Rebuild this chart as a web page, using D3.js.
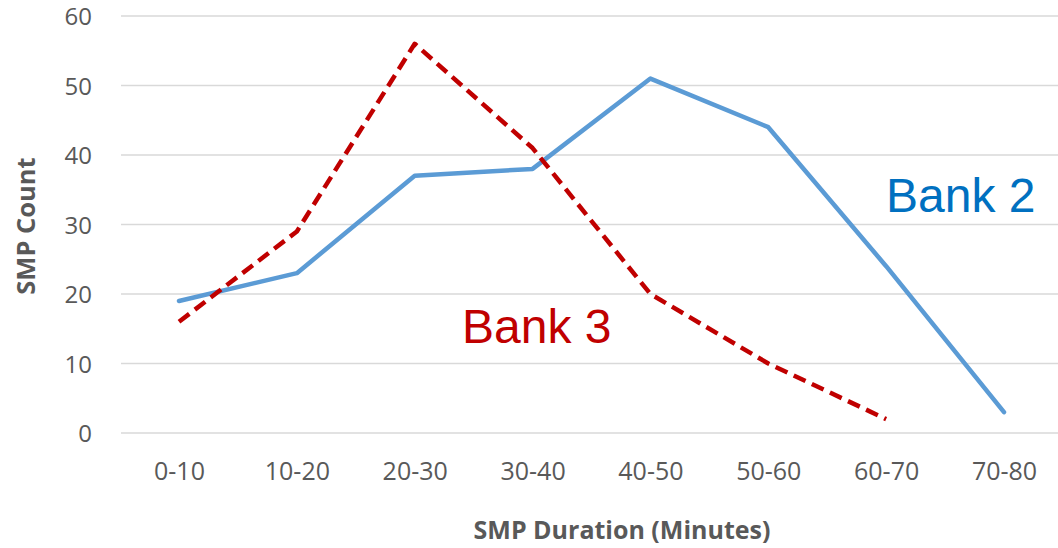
<!DOCTYPE html>
<html>
<head>
<meta charset="utf-8">
<script src="https://d3js.org/d3.v7.min.js"></script>
<style>
  body { margin: 0; background: #fff; }
  .tick text { font-family: "Open Sans", sans-serif; fill: #595959; }
</style>
</head>
<body>
<svg width="1058" height="548"></svg>
<script>
// chart data
var categories = ["0-10", "10-20", "20-30", "30-40", "40-50", "50-60", "60-70", "70-80"];
var bank2 = [19, 23, 37, 38, 51, 44, 24, 3];
var bank3 = [16, 29, 56, 41, 20, 10, 2];
var yTicks = [0, 10, 20, 30, 40, 50, 60];

var svg = d3.select("svg");

var x = d3.scalePoint().domain(categories).range([179, 1004]);
var y = d3.scaleLinear().domain([0, 60]).range([433, 16]);

// gridlines
svg.append("g").selectAll("line").data(yTicks).enter().append("line")
    .attr("x1", 121).attr("x2", 1058)
    .attr("y1", function(d) { return y(d); })
    .attr("y2", function(d) { return y(d); })
    .attr("stroke", "#d9d9d9").attr("stroke-width", 1.5);

// y axis labels
var yAxis = svg.append("g").attr("transform", "translate(92,0)")
    .call(d3.axisLeft(y).tickValues(yTicks).tickSize(0).tickPadding(0));
yAxis.select(".domain").remove();
yAxis.selectAll("text").attr("font-size", 24).attr("dy", "0.36em");

// x axis labels
var xAxis = svg.append("g").attr("transform", "translate(0,471)")
    .call(d3.axisBottom(x).tickSize(0).tickPadding(0));
xAxis.select(".domain").remove();
xAxis.selectAll("text").attr("font-size", 25).attr("dy", "0.35em");

var line = d3.line()
    .x(function(d, i) { return x(categories[i]); })
    .y(function(d) { return y(d); });

svg.append("path").datum(bank2)
    .attr("d", line)
    .attr("fill", "none")
    .attr("stroke", "#5B9BD5")
    .attr("stroke-width", 4.5)
    .attr("stroke-linejoin", "round")
    .attr("stroke-linecap", "round");

svg.append("path").datum(bank3)
    .attr("d", line)
    .attr("fill", "none")
    .attr("stroke", "#C00000")
    .attr("stroke-width", 4.5)
    .attr("stroke-dasharray", "13,7")
    .attr("stroke-linejoin", "round");

// axis titles
svg.append("text")
    .attr("transform", "translate(35,226) rotate(-90)")
    .attr("text-anchor", "middle")
    .attr("font-family", "'Open Sans', sans-serif")
    .attr("font-weight", "bold")
    .attr("font-size", 25.5)
    .attr("fill", "#595959")
    .text("SMP Count");

svg.append("text")
    .attr("x", 622).attr("y", 539)
    .attr("text-anchor", "middle")
    .attr("font-family", "'Open Sans', sans-serif")
    .attr("font-weight", "bold")
    .attr("font-size", 25)
    .attr("fill", "#595959")
    .text("SMP Duration (Minutes)");

// series labels
svg.append("text")
    .attr("x", 886).attr("y", 212)
    .attr("font-family", "'Liberation Sans', Arial, sans-serif")
    .attr("font-size", 48)
    .attr("fill", "#0070C0")
    .text("Bank 2");

svg.append("text")
    .attr("x", 462).attr("y", 343)
    .attr("font-family", "'Liberation Sans', Arial, sans-serif")
    .attr("font-size", 48)
    .attr("fill", "#C00000")
    .text("Bank 3");
</script>
</body>
</html>
